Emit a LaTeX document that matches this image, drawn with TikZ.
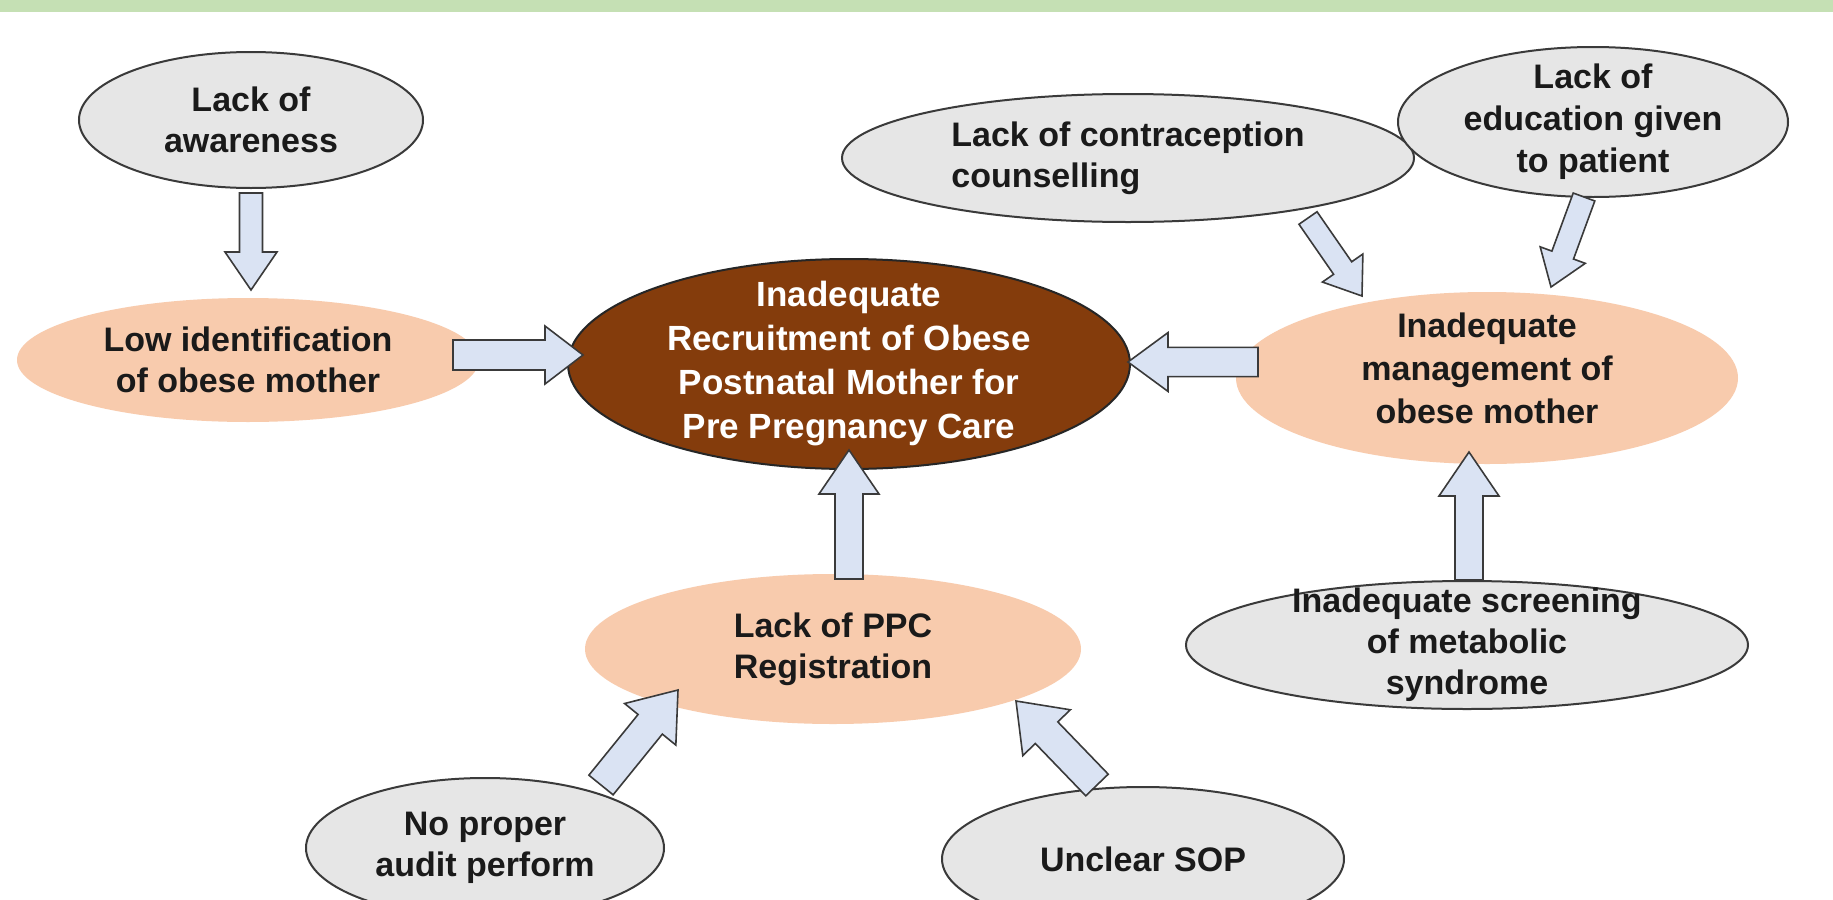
\documentclass[tikz,border=0pt]{standalone}
\usepackage{fontspec}
\setmainfont{Liberation Sans}
\usetikzlibrary{calc,shapes.geometric}
\definecolor{barGreen}{HTML}{C5E0B4}
\definecolor{greyFill}{HTML}{E6E6E6}
\definecolor{peach}{HTML}{F8CBAD}
\definecolor{brownFill}{HTML}{843C0C}
\definecolor{arrowFill}{HTML}{DAE3F3}
\definecolor{lineGrey}{HTML}{3A3A3A}
\definecolor{txtDark}{HTML}{1A1A1A}
\tikzset{
 greyell/.style={ellipse, draw=lineGrey, line width=1pt, fill=greyFill, inner sep=0pt},
 peachell/.style={ellipse, fill=peach, inner sep=0pt},
 brownell/.style={ellipse, draw=black!85, line width=1pt, fill=brownFill, inner sep=0pt},
 lbl/.style={align=center, font=\bfseries\fontsize{17}{20.5}\selectfont, text=txtDark, inner sep=0pt},
 barrowstyle/.style={draw=lineGrey, line width=0.8pt, fill=arrowFill, line join=miter},
}
% #1 shaft half width, #2 head half width, #3 head length (pt), #4 from, #5 to
\newcommand{\blockarrow}[5]{%
 \draw[barrowstyle] let \p1=(#4), \p2=(#5), \n1={atan2(\y2-\y1,\x2-\x1)}, \n2={veclen(\x2-\x1,\y2-\y1)} in
 ($(\p1)+({\n1+90}:#1pt)$) -- ($(\p1)+(\n1:{\n2-#3pt})+({\n1+90}:#1pt)$) -- ($(\p1)+(\n1:{\n2-#3pt})+({\n1+90}:#2pt)$) -- (\p2) -- ($(\p1)+(\n1:{\n2-#3pt})+({\n1-90}:#2pt)$) -- ($(\p1)+(\n1:{\n2-#3pt})+({\n1-90}:#1pt)$) -- ($(\p1)+({\n1-90}:#1pt)$) -- cycle;}
\begin{document}
\begin{tikzpicture}[x=0.5pt,y=-0.5pt]
\clip (0,0) rectangle (1833,900);
\fill[white] (0,0) rectangle (1833,900);
\fill[barGreen] (0,0) rectangle (1833,12);

% ellipses
\node[greyell, minimum width=172pt, minimum height=68pt] (aware) at (251,120) {};
\node[lbl] at (aware) {Lack of\\awareness};
\node[peachell, minimum width=231pt, minimum height=62pt] (lowid) at (248,360) {};
\node[lbl] at (lowid) {Low identification\\of obese mother};
\node[brownell, minimum width=281pt, minimum height=105pt] (center) at (849,364) {};
\node[lbl, text=white, font=\bfseries\fontsize{17.5}{22}\selectfont] at (center) {Inadequate\\Recruitment of Obese\\Postnatal Mother for\\Pre Pregnancy Care};
\node[peachell, minimum width=251pt, minimum height=86pt] (manage) at (1487,378) {};
\node[lbl, font=\bfseries\fontsize{17}{21.5}\selectfont] at ($(manage.center)+(0,-10)$) {Inadequate\\management of\\obese mother};
\node[greyell, minimum width=286pt, minimum height=64pt] (contra) at (1128,158) {};
\node[lbl, align=left] at (contra) {Lack of contraception\\counselling};
\node[greyell, minimum width=195pt, minimum height=75pt] (educ) at (1593,122) {};
\node[lbl, font=\bfseries\fontsize{17}{21}\selectfont] at (educ) {Lack of\\education given\\to patient};
\node[greyell, minimum width=281pt, minimum height=64pt] (screen) at (1467,645) {};
\node[lbl] at (screen) {Inadequate screening\\of metabolic\\syndrome};
\node[peachell, minimum width=248pt, minimum height=75pt] (ppc) at (833,649) {};
\node[lbl] at (ppc) {Lack of PPC\\Registration};
\node[greyell, minimum width=179pt, minimum height=70pt] (audit) at (485,848) {};
\node[lbl] at (audit) {No proper\\audit perform};
\node[greyell, minimum width=201pt, minimum height=72pt] (sop) at (1143,859) {};
\node[lbl] at (sop) {Unclear SOP};

% arrow end points
\coordinate (a1s) at (251,193); \coordinate (a1e) at (251,290);
\coordinate (a2s) at (453,355); \coordinate (a2e) at (583,355);
\coordinate (a3s) at (1258,362); \coordinate (a3e) at (1128,362);
\coordinate (a5s) at (1308,218); \coordinate (a5e) at (1362,296);
\coordinate (a6s) at (1584,197); \coordinate (a6e) at (1551,287);
\coordinate (a7s) at (1469,580); \coordinate (a7e) at (1469,452);
\coordinate (a8s) at (849,579); \coordinate (a8e) at (849,450);
\coordinate (a9s) at (601,785); \coordinate (a9e) at (678,690);
\coordinate (a10s) at (1097,785); \coordinate (a10e) at (1016,701);

\blockarrow{5.75}{13}{19}{a1s}{a1e}
\blockarrow{7.5}{14.5}{19}{a2s}{a2e}
\blockarrow{7.3}{14.7}{20}{a3s}{a3e}
\blockarrow{5.5}{12.3}{17}{a5s}{a5e}
\blockarrow{5.75}{12}{17}{a6s}{a6e}
\blockarrow{7}{15}{22}{a7s}{a7e}
\blockarrow{7}{15}{22}{a8s}{a8e}
\blockarrow{7.8}{16.5}{22}{a9s}{a9e}
\blockarrow{7.8}{16.5}{22}{a10s}{a10e}
\end{tikzpicture}
\end{document}
